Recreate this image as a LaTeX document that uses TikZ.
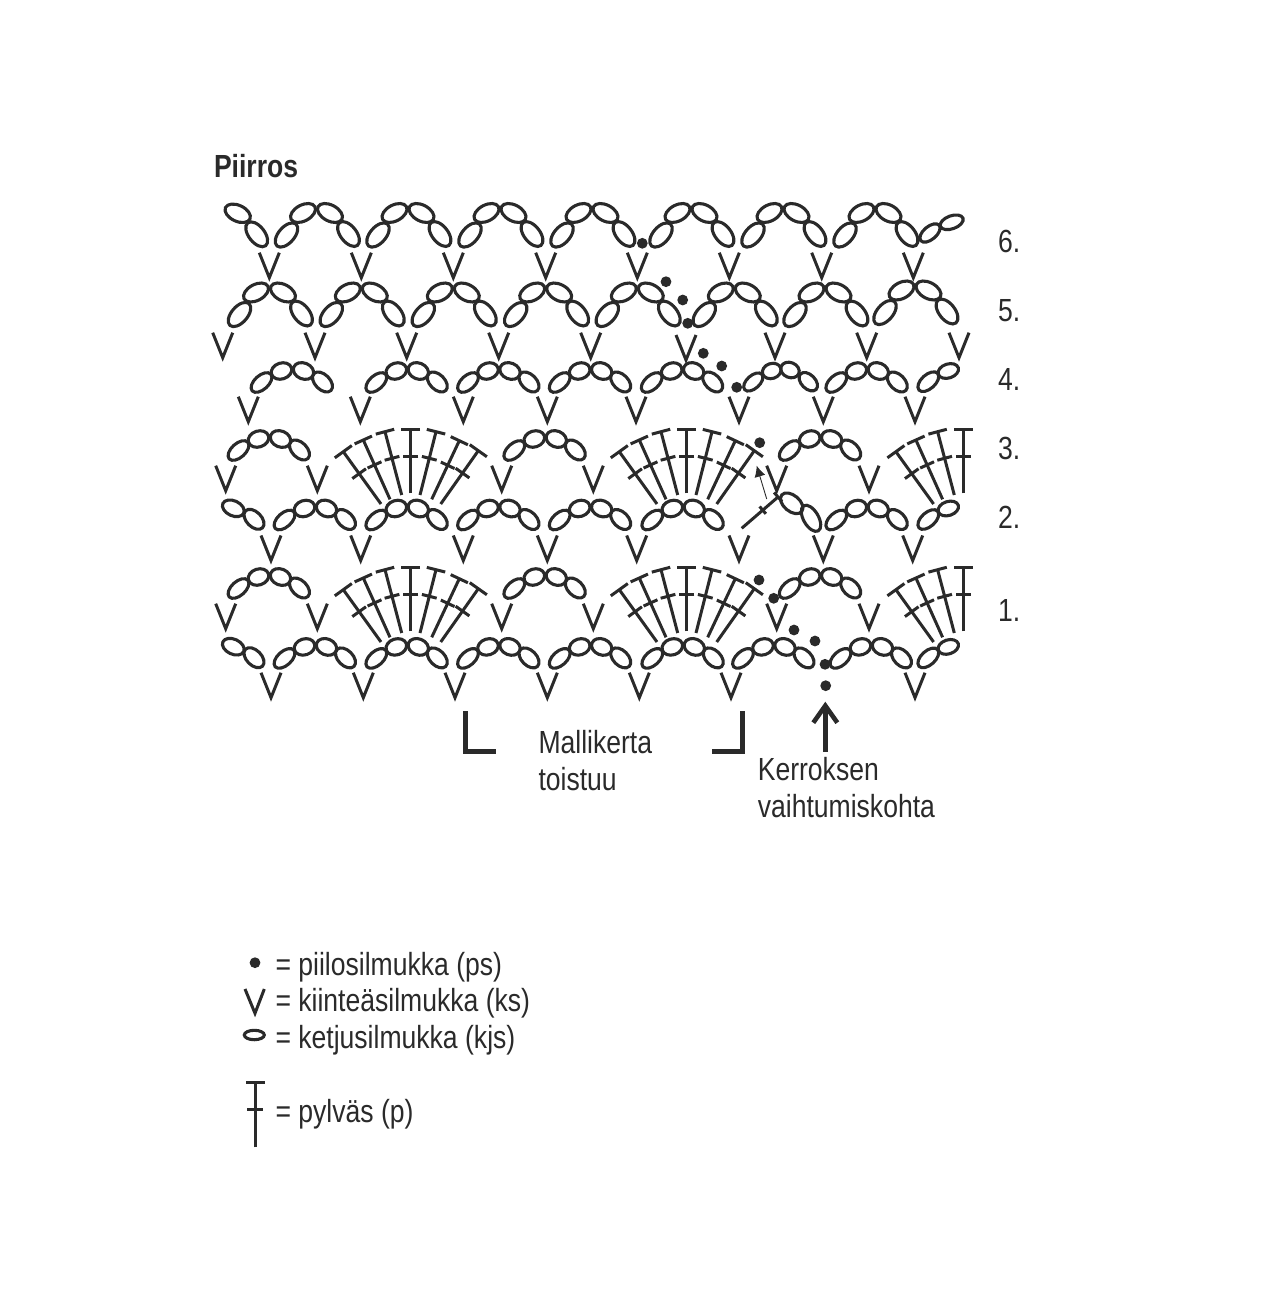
\documentclass[tikz,border=0pt]{standalone}
\usepackage{fontspec}
\setmainfont[FakeStretch=0.83]{Liberation Sans}
\usetikzlibrary{calc,arrows.meta}

\definecolor{chartink}{RGB}{42,42,42}

\newcommand{\chainlp}[5]{\draw[chainloop] (#1,#2) ellipse[x radius=#4, y radius=#5, rotate=#3];}
\newcommand{\treble}[5][9.5]{
  \coordinate (tb) at (#2,#3);
  \coordinate (tt) at (#4,#5);
  \coordinate (tm) at ($(tb)!.58!(tt)$);
  \draw[stemline] (tb) -- (tt);
  \draw[stemline] ($(tt)!#1pt!90:(tb)$) -- ($(tt)!#1pt!-90:(tb)$);
  \draw[stemline] ($(tm)!0.8*#1pt!90:(tb)$) -- ($(tm)!0.8*#1pt!-90:(tb)$);
}

\tikzset{
  chainloop/.style={draw=chartink, line width=3.1pt},
  stemline/.style={draw=chartink, line width=3pt},
  tallarch/.pic={
    \chainlp{-30}{22}{49}{14.5}{8}
    \chainlp{-13.5}{0}{28}{13.5}{8}
    \chainlp{13.5}{0}{-28}{13.5}{8}
    \chainlp{32}{21}{-52}{14.5}{8}
  },
  lowarch/.pic={
    \chainlp{-31}{11.5}{42}{12.5}{7}
    \chainlp{-11}{0}{18}{10.5}{8}
    \chainlp{11}{0}{-22}{10.5}{8}
    \chainlp{30}{11}{-45}{12}{7.5}
  },
  stitchv/.pic={
    \draw[stemline] (-10,-25) -- (0,0) -- (10,-25);
  },
  fanleft/.pic={
    \treble{0}{64.3}{0}{0}
    \treble{-9}{66}{-25.7}{2.7}
    \treble{-20.7}{70.3}{-47.4}{11}
    \treble[10.5]{-29.7}{75}{-67.4}{22.7}
  },
  fanfull/.pic={
    \pic {fanleft};
    \treble{9.3}{66}{25.3}{2.7}
    \treble{21}{70.3}{48.6}{11.7}
    \treble[10.5]{30}{75}{67.6}{21.7}
  }
}

\begin{document}
\begin{tikzpicture}[
  x=1pt,
  y=-1pt,
  every node/.style={inner sep=0pt, outer sep=0pt},
  labeltext/.style={font=\fontsize{32}{37}\selectfont, text=chartink, align=left, anchor=base west},
  titletext/.style={font=\bfseries\fontsize{32}{37}\selectfont, text=chartink, anchor=base west},
  slipdot/.style={fill=chartink},
  cornerline/.style={draw=chartink, line width=5pt},
  thinarrow/.style={draw=chartink, line width=0.9pt, -{Latex[length=11pt,width=11pt]}},
  markarrow/.style={draw=chartink, line width=4.6pt, -{Straight Barb[length=17pt,width=24pt]}}
]

  \path[use as bounding box] (0,0) rectangle (1280,1314);

  \node[titletext] (title) at (214,177) {Piirros};

  % Row 6
  \chainlp{237.7}{213.3}{-25}{13.5}{8}
  \chainlp{256.7}{234.3}{-52}{14.5}{8}
  \foreach \ax in {316.5,408,500,592,691,783,875}
    \pic at (\ax,213) {tallarch};
  \chainlp{930}{233}{40}{12}{6.5}
  \chainlp{951.7}{222.3}{20}{12}{6.5}
  \foreach \vx in {269.3,361.3,453.3,545.7,637.3,729.3,821.7,913.3}
    \pic at (\vx,277.7) {stitchv};

  % Row 5
  \foreach \ax in {269.5,361.3,453.3,545.7,637.3,734.3,825}
    \pic at (\ax,292.5) {tallarch};
  \pic at (915,290.5) {tallarch};
  \foreach \vx in {222.7,315,406.7,498.7,590.7,775,866.7,959}
    \pic at (\vx,357.7) {stitchv};
  \pic at (686,360) {stitchv};

  % Row 4
  \foreach \ax in {292.5,407.3,499,590.7,682.7,867.3}
    \pic at (\ax,371) {lowarch};
  \chainlp{753.3}{382}{42}{11.5}{6.5}
  \chainlp{771.7}{371}{18}{9.5}{7.5}
  \chainlp{790}{370}{-22}{9.5}{7.5}
  \chainlp{808.3}{381.7}{-45}{11}{7}
  \chainlp{928.3}{381.7}{42}{12.5}{7}
  \chainlp{948.3}{371}{18}{10.5}{7}
  \foreach \vx in {248.3,360.3,463.3,547.3,636,739,823.3,915}
    \pic at (\vx,421.7) {stitchv};

  % Row 3
  \foreach \ax in {269.5,545.3,820.7}
    \pic at (\ax,439) {lowarch};
  \pic at (410.7,429) {fanfull};
  \pic at (686.7,429) {fanfull};
  \pic at (963.3,429) {fanleft};
  \foreach \vx in {225.7,317.3,501.7,593.3,776.7,869}
    \pic at (\vx,490.7) {stitchv};

  % Row 2
  \chainlp{233.3}{508.3}{-25}{11.5}{7.5}
  \chainlp{254}{519.3}{-45}{12}{7.5}
  \foreach \ax in {315.5,407.3,499,590.7,683.3,867.3}
    \pic at (\ax,508.5) {lowarch};
  \treble[6]{741.7}{528.3}{778}{497}
  \chainlp{791.7}{503.3}{-40}{13}{8}
  \chainlp{811}{518.3}{-60}{14.5}{7.5}
  \chainlp{928.3}{519.5}{42}{12.5}{7}
  \chainlp{948.3}{508.5}{18}{10.5}{7}
  \foreach \vx in {271,360.7,463.3,547.3,636.7,739,823.3,912.7}
    \pic at (\vx,560.5) {stitchv};

  % Row 1
  \foreach \ax in {269.5,545.3,820.7}
    \pic at (\ax,577) {lowarch};
  \pic at (410.7,567) {fanfull};
  \pic at (686.7,567) {fanfull};
  \pic at (963.3,567) {fanleft};
  \foreach \vx in {225.7,317.3,501.7,593.3,776.7,869}
    \pic at (\vx,628.7) {stitchv};

  % Foundation chain
  \chainlp{233.3}{646.7}{-25}{11.5}{7.5}
  \chainlp{254}{657.7}{-45}{12}{7.5}
  \foreach \ax in {315.5,407.3,499,590.7,683.3,774,871.5}
    \pic at (\ax,646.9) {lowarch};
  \chainlp{928.3}{657.9}{42}{12.5}{7}
  \chainlp{948.3}{646.9}{18}{10.5}{7}
  \foreach \vx in {271,363.3,455,547.3,639.3,731,915}
    \pic at (\vx,697.7) {stitchv};

  % Slip stitches along the row change
  \foreach \dx/\dy in {642.3/243.3,666/281.7,682.7/300,687.7/323.3,703.3/353.3,721.7/366,736.7/387.3,
                       759.7/442.7,759/580,773.7/598.3,794/630,815/641,825/664.3,825.7/685.7}
    \fill[slipdot] (\dx,\dy) circle (5.4);

  % Thin arrow from row 2 up to row 3
  \coordinate (thinfoot) at (766.7,499);
  \coordinate (thintip) at (756.7,465.7);
  \draw[thinarrow] (thinfoot) -- (thintip);

  % Repeat corners
  \draw[cornerline] (465,711) -- (465,751.7) -- (496,751.7);
  \draw[cornerline] (712,751.7) -- (742.7,751.7) -- (742.7,711);
  \node[labeltext] (repeatlabel) at (538.5,790) {Mallikerta\\toistuu};

  % Row change mark
  \coordinate (markfoot) at (825.3,751.7);
  \coordinate (marktip) at (825.3,701.7);
  \draw[markarrow] (markfoot) -- (marktip);
  \node[labeltext] (changelabel) at (757.8,817) {Kerroksen\\vaihtumiskohta};

  % Row numbers
  \node[labeltext] (rowsix) at (998,252.7) {6.};
  \node[labeltext] (rowfive) at (998,321.7) {5.};
  \node[labeltext] (rowfour) at (998,390.7) {4.};
  \node[labeltext] (rowthree) at (998,459.3) {3.};
  \node[labeltext] (rowtwo) at (998,528.3) {2.};
  \node[labeltext] (rowone) at (998,621.3) {1.};

  % Legend
  \fill[slipdot] (255,962.7) circle (5.4);
  \node[labeltext] (keyslip) at (275.5,975.3) {= piilosilmukka (ps)};
  \draw[stemline] (245,989) -- (255,1013.3) -- (264.3,989);
  \node[labeltext] (keysingle) at (275.5,1011.7) {= kiinteäsilmukka (ks)};
  \chainlp{254.3}{1035}{0}{10}{4.7}
  \node[labeltext] (keychain) at (275.5,1048.7) {= ketjusilmukka (kjs)};
  \treble{255}{1147.3}{255}{1082.3}
  \node[labeltext] (keytreble) at (275.5,1122) {= pylväs (p)};

\end{tikzpicture}
\end{document}
